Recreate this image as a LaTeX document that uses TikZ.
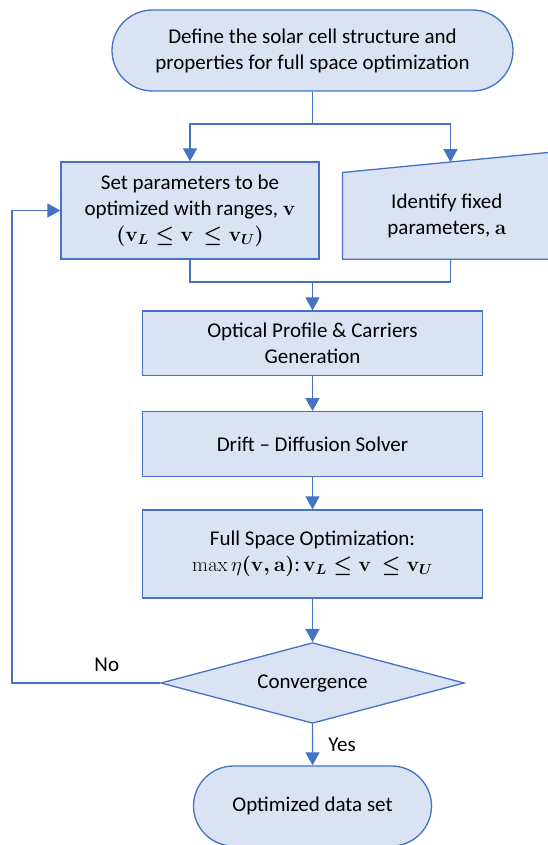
\documentclass[tikz,border=0pt]{standalone}
\usepackage[no-math]{fontspec}
\setmainfont{Carlito}
\usetikzlibrary{arrows.meta,shapes.geometric,shapes.misc,backgrounds}

\definecolor{flowline}{HTML}{4472C4}
\definecolor{flowfill}{HTML}{DAE3F3}

\tikzset{
  flowtext/.style={align=center, font=\fontsize{21bp}{26bp}\selectfont},
  flowbase/.style={flowtext, draw=flowline, fill=flowfill, line width=1.3bp, inner sep=0pt},
  terminal/.style={flowbase, rounded rectangle},
  process/.style={flowbase, rectangle},
  decision/.style={flowbase, diamond, aspect=3.76},
  flow/.style={draw=flowline, line width=1.3bp},
  flowarrow/.style={flow, -{Triangle[length=13bp,width=14bp]}},
}

\begin{document}
\begin{tikzpicture}[x=1bp, y=1bp]
  \path[use as bounding box, clip] (0,0) rectangle (548,845);

  \node[terminal, minimum width=401bp, minimum height=81bp] (define) at (312.5,794.5)
    {Define the solar cell structure and\\properties for full space optimization};
  \node[process, minimum width=258bp, minimum height=97bp] (setpar) at (190,634.5)
    {Set parameters to be\\optimized with ranges, $\mathbf{v}$\\{\boldmath$(\mathbf{v}_L\le\mathbf{v}\,\le\mathbf{v}_U)$}};
  % manual input shape, cut off by the right edge
  \node[flowtext, minimum width=208.3bp, minimum height=86.3bp, inner sep=0pt] (fixed) at (446.85,629.15)
    {Identify fixed\\parameters, $\mathbf{a}$};
  \begin{scope}[on background layer]
    \draw[flow, fill=flowfill] (fixed.south west) -- (fixed.north west)
      -- ([yshift=20.3bp]fixed.north east) -- (fixed.south east) -- cycle;
  \end{scope}
  \coordinate (fixedtop) at (450.5,682.8);

  \node[process, minimum width=340.5bp, minimum height=64.7bp] (optical) at (312.5,501.6)
    {Optical Profile \& Carriers\\Generation};
  \node[process, minimum width=340.5bp, minimum height=65bp] (drift) at (312.5,400.8)
    {Drift -- Diffusion Solver};
  \node[process, minimum width=340.5bp, minimum height=88bp] (fullopt) at (312.5,291)
    {Full Space Optimization:\\$\max\eta${\boldmath$(\mathbf{v},\mathbf{a})$:\,$\mathbf{v}_L\le\mathbf{v}\,\le\mathbf{v}_U$}};
  \node[decision, minimum width=303.5bp, minimum height=80.7bp] (conv) at (312.5,162)
    {Convergence};
  \node[terminal, minimum width=238bp, minimum height=80bp] (result) at (312.5,39)
    {Optimized data set};

  \coordinate (split) at (312.5,721);
  \coordinate (join) at (312.5,563);
  \coordinate (loop) at (12,162);

  \draw[flow] (define.south) -- (split);
  \draw[flowarrow] (split) -| (setpar.north);
  \draw[flowarrow] (split) -| (fixedtop);
  \draw[flow] (setpar.south) |- (join);
  \draw[flow] (fixedtop |- fixed.south) |- (join);
  \draw[flowarrow] (join) -- (optical);
  \draw[flowarrow] (optical) -- (drift);
  \draw[flowarrow] (drift) -- (fullopt);
  \draw[flowarrow] (fullopt) -- (conv);
  \draw[flowarrow] (conv) -- node[flowtext, right=12bp] {Yes} (result);
  \draw[flowarrow] (conv.west) -- node[flowtext, pos=0.36, above=7bp] {No} (loop) |- (setpar.west);
\end{tikzpicture}
\end{document}
